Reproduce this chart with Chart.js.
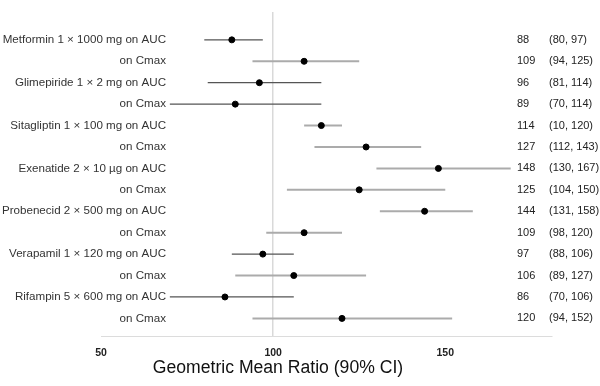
<!DOCTYPE html>
<html>
<head>
<meta charset="utf-8">
<script src="https://cdn.jsdelivr.net/npm/chart.js@4"></script>
<style>
html,body{margin:0;padding:0;background:#fff;}
#wrap{width:600px;height:386px;position:relative;}
</style>
</head>
<body>
<div id="wrap"><canvas id="c"></canvas></div>
<script>
const rowLabels = ["Metformin 1 \u00d7 1000 mg on AUC","on Cmax","Glimepiride 1 \u00d7 2 mg on AUC","on Cmax","Sitagliptin 1 \u00d7 100 mg on AUC","on Cmax","Exenatide 2 \u00d7 10 \u00b5g on AUC","on Cmax","Probenecid 2 \u00d7 500 mg on AUC","on Cmax","Verapamil 1 \u00d7 120 mg on AUC","on Cmax","Rifampin 5 \u00d7 600 mg on AUC","on Cmax"];
const gmr = [88,109,96,89,114,127,148,125,144,109,97,106,86,120];
const ciLow = [80,94,81,70,109,112,130,104,131,98,88,89,70,94];
const ciHigh = [97,125,114,114,120,143,169,150,158,120,106,127,106,152];
const gmrText = ["88","109","96","89","114","127","148","125","144","109","97","106","86","120"];
const ciText = ["(80, 97)","(94, 125)","(81, 114)","(70, 114)","(10, 120)","(112, 143)","(130, 167)","(104, 150)","(131, 158)","(98, 120)","(88, 106)","(89, 127)","(70, 106)","(94, 152)"];
const shade = ["dark","light","dark","dark","light","light","light","light","light","light","dark","light","dark","light"];
const xTicks = [50,100,150];

const FONT = "'Liberation Sans', Arial, sans-serif";

const lineDatasets = rowLabels.map((_, i) => ({
  type: 'line',
  data: [{x: ciLow[i], y: i}, {x: ciHigh[i], y: i}],
  borderColor: shade[i] === 'dark' ? '#555' : '#ababab',
  borderWidth: shade[i] === 'dark' ? 1.2 : 2,
  pointRadius: 0,
  order: 2
}));

const pointDataset = {
  type: 'scatter',
  data: gmr.map((v, i) => ({x: v, y: i})),
  backgroundColor: '#000',
  borderColor: '#000',
  pointRadius: 3,
  order: 1
};

const textPlugin = {
  id: 'texts',
  afterDatasetsDraw(chart) {
    const ctx = chart.ctx;
    const ys = chart.scales.y;
    ctx.save();
    ctx.textBaseline = 'middle';
    rowLabels.forEach((t, i) => {
      const y = ys.getPixelForValue(i);
      ctx.font = "11.6px " + FONT;
      ctx.fillStyle = '#333';
      ctx.textAlign = 'right';
      ctx.fillText(t, 166, y);
      ctx.font = "11px " + FONT;
      ctx.textAlign = 'left';
      ctx.fillStyle = '#222';
      ctx.fillText(gmrText[i], 517, y);
      ctx.fillText(ciText[i], 549, y);
    });
    ctx.font = "17.6px " + FONT;
    ctx.fillStyle = '#111';
    ctx.textAlign = 'center';
    ctx.fillText("Geometric Mean Ratio (90% CI)", 278, 368);
    ctx.restore();
  }
};

new Chart(document.getElementById('c'), {
  data: { datasets: [...lineDatasets, pointDataset] },
  options: {
    responsive: true,
    maintainAspectRatio: false,
    animation: false,
    layout: { padding: { left: 101, right: 48, top: 12, bottom: 17 } },
    plugins: { legend: { display: false }, tooltip: { enabled: false } },
    scales: {
      x: {
        type: 'linear',
        min: 50,
        max: 181,
        afterBuildTicks(scale) { scale.ticks = xTicks.map(v => ({value: v})); },
        grid: {
          drawTicks: false,
          color: ctx => (ctx.tick && ctx.tick.value === 100) ? '#d9d9d9' : 'rgba(0,0,0,0)',
          lineWidth: 1.5
        },
        border: { display: true, color: '#dcdcdc', width: 1 },
        ticks: { padding: 10, font: { family: FONT, size: 10.5, weight: 'bold' }, color: '#222' }
      },
      y: {
        type: 'linear',
        reverse: true,
        min: -1.3,
        max: 13.84,
        display: false
      }
    }
  },
  plugins: [textPlugin]
});
</script>
</body>
</html>
